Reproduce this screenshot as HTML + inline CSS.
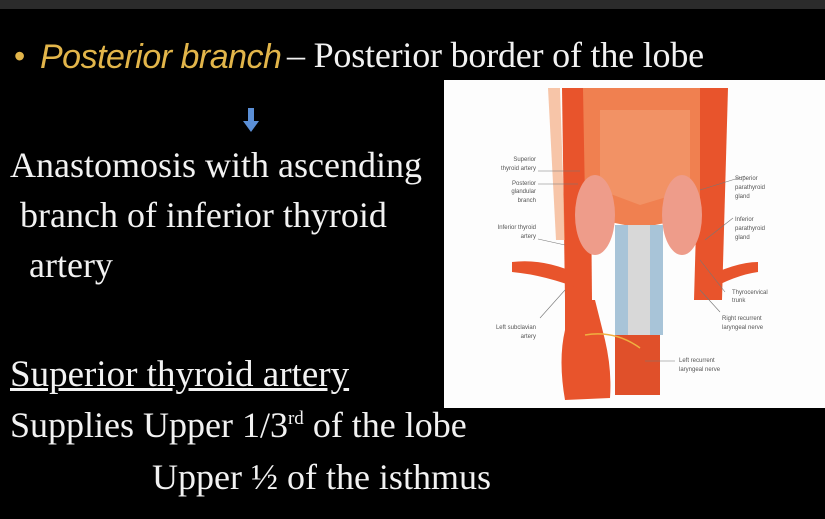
<!DOCTYPE html>
<html><head><meta charset="utf-8"><style>
body{margin:0;width:825px;height:519px;background:#000;overflow:hidden;position:relative;font-family:"Liberation Serif",serif;color:#f2f2f2}
.t{position:absolute;white-space:nowrap;line-height:1}
</style></head><body>
<div style="position:absolute;left:0;top:0;width:825px;height:9px;background:#2b2b2b"></div>
<div class="t" style="left:14px;top:40px;font-size:32px;font-family:'Liberation Sans',sans-serif;color:#e2b54a">•</div>
<div class="t" style="left:40px;top:40px;font-size:34px;font-family:'Liberation Sans',sans-serif;font-style:italic;color:#e2b54a;letter-spacing:-0.5px">Posterior branch</div>
<div class="t" style="left:287px;top:37px;font-size:36px;letter-spacing:-0.2px">– Posterior border of the lobe</div>
<svg style="position:absolute;left:243px;top:108px" width="16" height="26"><rect x="5" y="0" width="6" height="14" fill="#5b8fd6"/><polygon points="0,13 16,13 8,24" fill="#5b8fd6"/></svg>
<div class="t" style="left:10px;top:147px;font-size:36px">Anastomosis with ascending</div>
<div class="t" style="left:20px;top:197px;font-size:36px">branch of inferior thyroid</div>
<div class="t" style="left:29px;top:247px;font-size:36px">artery</div>
<div class="t" style="left:10px;top:356px;font-size:37px;text-decoration:underline">Superior thyroid artery</div>
<div class="t" style="left:10px;top:407px;font-size:36px">Supplies Upper 1/3<sup style="font-size:19px">rd</sup> of the lobe</div>
<div class="t" style="left:152px;top:459px;font-size:36px">Upper ½ of the isthmus</div>
<svg style="position:absolute;left:444px;top:80px" width="381" height="328" viewBox="444 80 381 328">
<rect x="444" y="80" width="381" height="328" fill="#fdfdfd"/>
<g font-family="Liberation Sans,sans-serif" font-size="6" fill="#555">
<path d="M562 88 L590 88 L592 300 L565 300 Z" fill="#e8542c"/>
<path d="M700 88 L728 88 L722 300 L694 300 Z" fill="#e8542c"/>
<path d="M548 88 L560 88 L565 240 L556 240 Z" fill="#f3a070" opacity=".6"/>
<path d="M583 88 L700 88 L700 200 L680 220 L640 228 L600 220 L585 200 Z" fill="#f08050"/>
<path d="M600 110 L690 110 L690 190 L640 205 L600 190 Z" fill="#f29a6e" opacity=".7"/>
<ellipse cx="595" cy="215" rx="20" ry="40" fill="#ee9c8a"/>
<ellipse cx="682" cy="215" rx="20" ry="40" fill="#ee9c8a"/>
<rect x="615" y="225" width="48" height="110" fill="#a8c4d8"/>
<rect x="628" y="225" width="22" height="110" fill="#d8d8d8"/>
<path d="M512 262 Q545 258 580 275 L583 290 Q545 275 512 272 Z" fill="#e8542c"/>
<path d="M700 280 Q735 262 758 262 L758 272 Q735 275 705 292 Z" fill="#e8542c"/>
<path d="M565 300 L595 300 L605 340 Q612 370 610 398 L565 400 Q558 360 565 330 Z" fill="#e8542c"/>
<rect x="615" y="335" width="45" height="60" fill="#e0502a"/>
<path d="M585 335 Q615 330 640 348" stroke="#f0b040" stroke-width="1.5" fill="none"/>
<g stroke="#777" stroke-width=".6">
<line x1="538" y1="171" x2="580" y2="171"/><line x1="538" y1="184" x2="578" y2="184"/>
<line x1="538" y1="239" x2="565" y2="245"/><line x1="745" y1="176" x2="700" y2="190"/>
<line x1="733" y1="218" x2="705" y2="240"/><line x1="725" y1="292" x2="700" y2="260"/>
<line x1="720" y1="312" x2="700" y2="290"/><line x1="675" y1="361" x2="645" y2="361"/>
<line x1="540" y1="318" x2="565" y2="290"/>
</g>
<text x="536" y="161" text-anchor="end">Superior</text><text x="536" y="170" text-anchor="end">thyroid artery</text>
<text x="536" y="185" text-anchor="end">Posterior</text><text x="536" y="193" text-anchor="end">glandular</text><text x="536" y="202" text-anchor="end">branch</text>
<text x="536" y="229" text-anchor="end">Inferior thyroid</text><text x="536" y="238" text-anchor="end">artery</text>
<text x="536" y="329" text-anchor="end">Left subclavian</text><text x="536" y="338" text-anchor="end">artery</text>
<text x="735" y="180">Superior</text><text x="735" y="189">parathyroid</text><text x="735" y="198">gland</text>
<text x="735" y="221">Inferior</text><text x="735" y="230">parathyroid</text><text x="735" y="239">gland</text>
<text x="732" y="294">Thyrocervical</text><text x="732" y="302">trunk</text>
<text x="722" y="320">Right recurrent</text><text x="722" y="329">laryngeal nerve</text>
<text x="679" y="362">Left recurrent</text><text x="679" y="371">laryngeal nerve</text>
</g>
</svg>
</body></html>
